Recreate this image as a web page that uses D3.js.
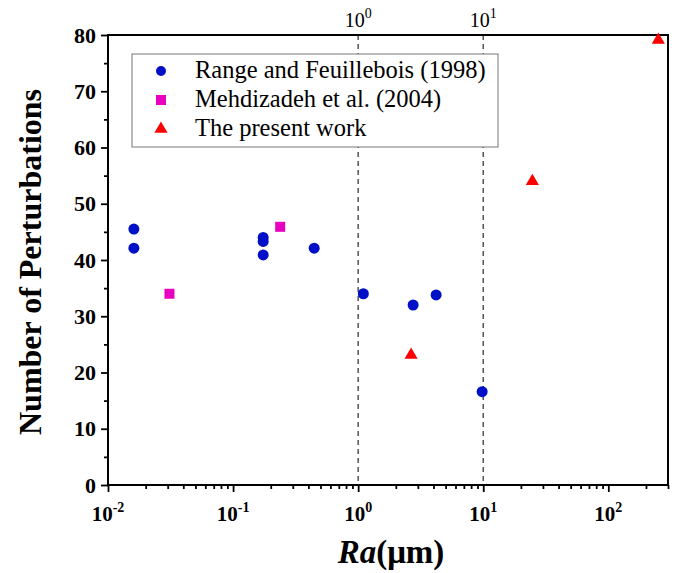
<!DOCTYPE html>
<html><head><meta charset="utf-8">
<script src="https://cdn.jsdelivr.net/npm/d3@7"></script>
<style>body{margin:0;background:#fff}svg{display:block} svg text{font-family:"Liberation Serif","Times New Roman",serif !important;}</style>
</head><body>
<svg id="c" width="681" height="573"></svg>
<script>
const rangeRa = [0.0161, 0.0161, 0.174, 0.174, 0.174, 0.445, 1.1, 2.75, 4.2, 9.8];
const rangeN  = [45.5, 42.1, 44.0, 43.3, 40.9, 42.1, 34.0, 32.0, 33.8, 16.6];
const mehRa = [0.031, 0.238];
const mehN  = [34.0, 45.9];
const presRa = [2.65, 24.7, 251];
const presN  = [23.1, 54.0, 79.1];
const seriesNames = ["Range and Feuillebois (1998)", "Mehdizadeh et al. (2004)", "The present work"];
const yTicks = [0,10,20,30,40,50,60,70,80];
const xDecades = [-2,-1,0,1,2];
const topDecades = [0,1];

const svg = d3.select("#c");
const L=108, R=668, T=35, B=485;
const x = d3.scaleLog().domain([0.01, 300]).range([L, R]);
const y = d3.scaleLinear().domain([0, 80]).range([B, T]);
const FF = "Liberation Serif";

// dashed reference lines
svg.append("g").selectAll("line").data(topDecades).join("line")
  .attr("x1", d=>x(Math.pow(10,d))).attr("x2", d=>x(Math.pow(10,d)))
  .attr("y1", T).attr("y2", B)
  .attr("stroke", "#555").attr("stroke-width", 1.5).attr("stroke-dasharray", "5,4");

// bottom axis
const minor = [];
for (let e=-2; e<=2; e++) for (let m=2; m<=9; m++) { const v=m*Math.pow(10,e); if (v<=300) minor.push(v); }
const gx = svg.append("g").attr("transform", `translate(0,${B})`);
gx.call(d3.axisBottom(x).tickValues(minor).tickSize(4).tickFormat(""));
gx.select(".domain").remove();
const gxM = svg.append("g").attr("transform", `translate(0,${B})`)
  .call(d3.axisBottom(x).tickValues(xDecades.map(d=>Math.pow(10,d))).tickSize(7).tickFormat(""));
gxM.select(".domain").remove();
const xl = svg.append("g").selectAll("text").data(xDecades).join("text")
  .attr("x", d=>x(Math.pow(10,d))).attr("y", B+36)
  .attr("text-anchor", "middle").style("font-family", FF).attr("font-weight", "bold").attr("font-size", 21);
xl.append("tspan").text("10");
xl.append("tspan").attr("dy", -9).attr("font-size", 14).text(d=>d);

// left axis
const gy = svg.append("g").attr("transform", `translate(${L},0)`)
  .call(d3.axisLeft(y).tickValues(d3.range(5,80,10)).tickSize(4).tickFormat(""));
gy.select(".domain").remove();
const gy2 = svg.append("g").attr("transform", `translate(${L},0)`)
  .call(d3.axisLeft(y).tickValues(yTicks).tickSize(7).tickPadding(5));
gy2.select(".domain").remove();
svg.selectAll(".tick line").attr("stroke", "#000").attr("stroke-width", 1.8);
gy2.selectAll("text").style("font-family", FF).attr("font-weight", "bold").attr("font-size", 22).attr("fill", "#000");

// top labels
const tl = svg.append("g").selectAll("text").data(topDecades).join("text")
  .attr("x", d=>x(Math.pow(10,d))).attr("y", T-8)
  .attr("text-anchor", "middle").style("font-family", FF).attr("font-size", 20);
tl.append("tspan").text("10");
tl.append("tspan").attr("dy", -9).attr("font-size", 14).text(d=>d);

// frame
svg.append("rect").attr("x", L).attr("y", T).attr("width", R-L).attr("height", B-T)
  .attr("fill", "none").attr("stroke", "#000").attr("stroke-width", 2);

// points
const blue="#0010C8", mag="#E800C0", red="#FF0000";
svg.append("g").selectAll("circle").data(rangeRa.map((r,i)=>[r, rangeN[i]])).join("circle")
  .attr("cx", d=>x(d[0])).attr("cy", d=>y(d[1])).attr("r", 5.5).attr("fill", blue);
svg.append("g").selectAll("rect").data(mehRa.map((r,i)=>[r, mehN[i]])).join("rect")
  .attr("x", d=>x(d[0])-5).attr("y", d=>y(d[1])-5).attr("width", 10).attr("height", 10).attr("fill", mag);
const tri = d3.symbol().type(d3.symbolTriangle).size(75);
svg.append("g").selectAll("path").data(presRa.map((r,i)=>[r, presN[i]])).join("path")
  .attr("d", tri).attr("transform", d=>`translate(${x(d[0])},${y(d[1])})`).attr("fill", red);

// legend
const lg = svg.append("g");
lg.append("rect").attr("x", 132).attr("y", 54).attr("width", 366).attr("height", 93)
  .attr("fill", "#fff").attr("stroke", "#777").attr("stroke-width", 1);
const rows = [71, 100, 129];
lg.append("circle").attr("cx", 161).attr("cy", rows[0]).attr("r", 5).attr("fill", blue);
lg.append("rect").attr("x", 156).attr("y", rows[1]-5).attr("width", 10).attr("height", 10).attr("fill", mag);
lg.append("path").attr("d", tri).attr("transform", `translate(161,${rows[2]})`).attr("fill", red);
lg.selectAll("text").data(seriesNames).join("text")
  .attr("x", 195).attr("y", (d,i)=>rows[i]+7).style("font-family", FF).attr("font-size", 24.5).text(d=>d);

// axis titles
svg.append("text").attr("transform", `translate(41,262) rotate(-90)`)
  .attr("text-anchor", "middle").style("font-family", FF).attr("font-weight", "bold").attr("font-size", 32)
  .text("Number of Perturbations");
const xt = svg.append("text").attr("x", 391).attr("y", 563).attr("text-anchor", "middle")
  .style("font-family", FF).attr("font-weight", "bold").attr("font-size", 33);
xt.append("tspan").attr("font-style", "italic").text("Ra");
xt.append("tspan").text("(μm)");
</script>
</body></html>
